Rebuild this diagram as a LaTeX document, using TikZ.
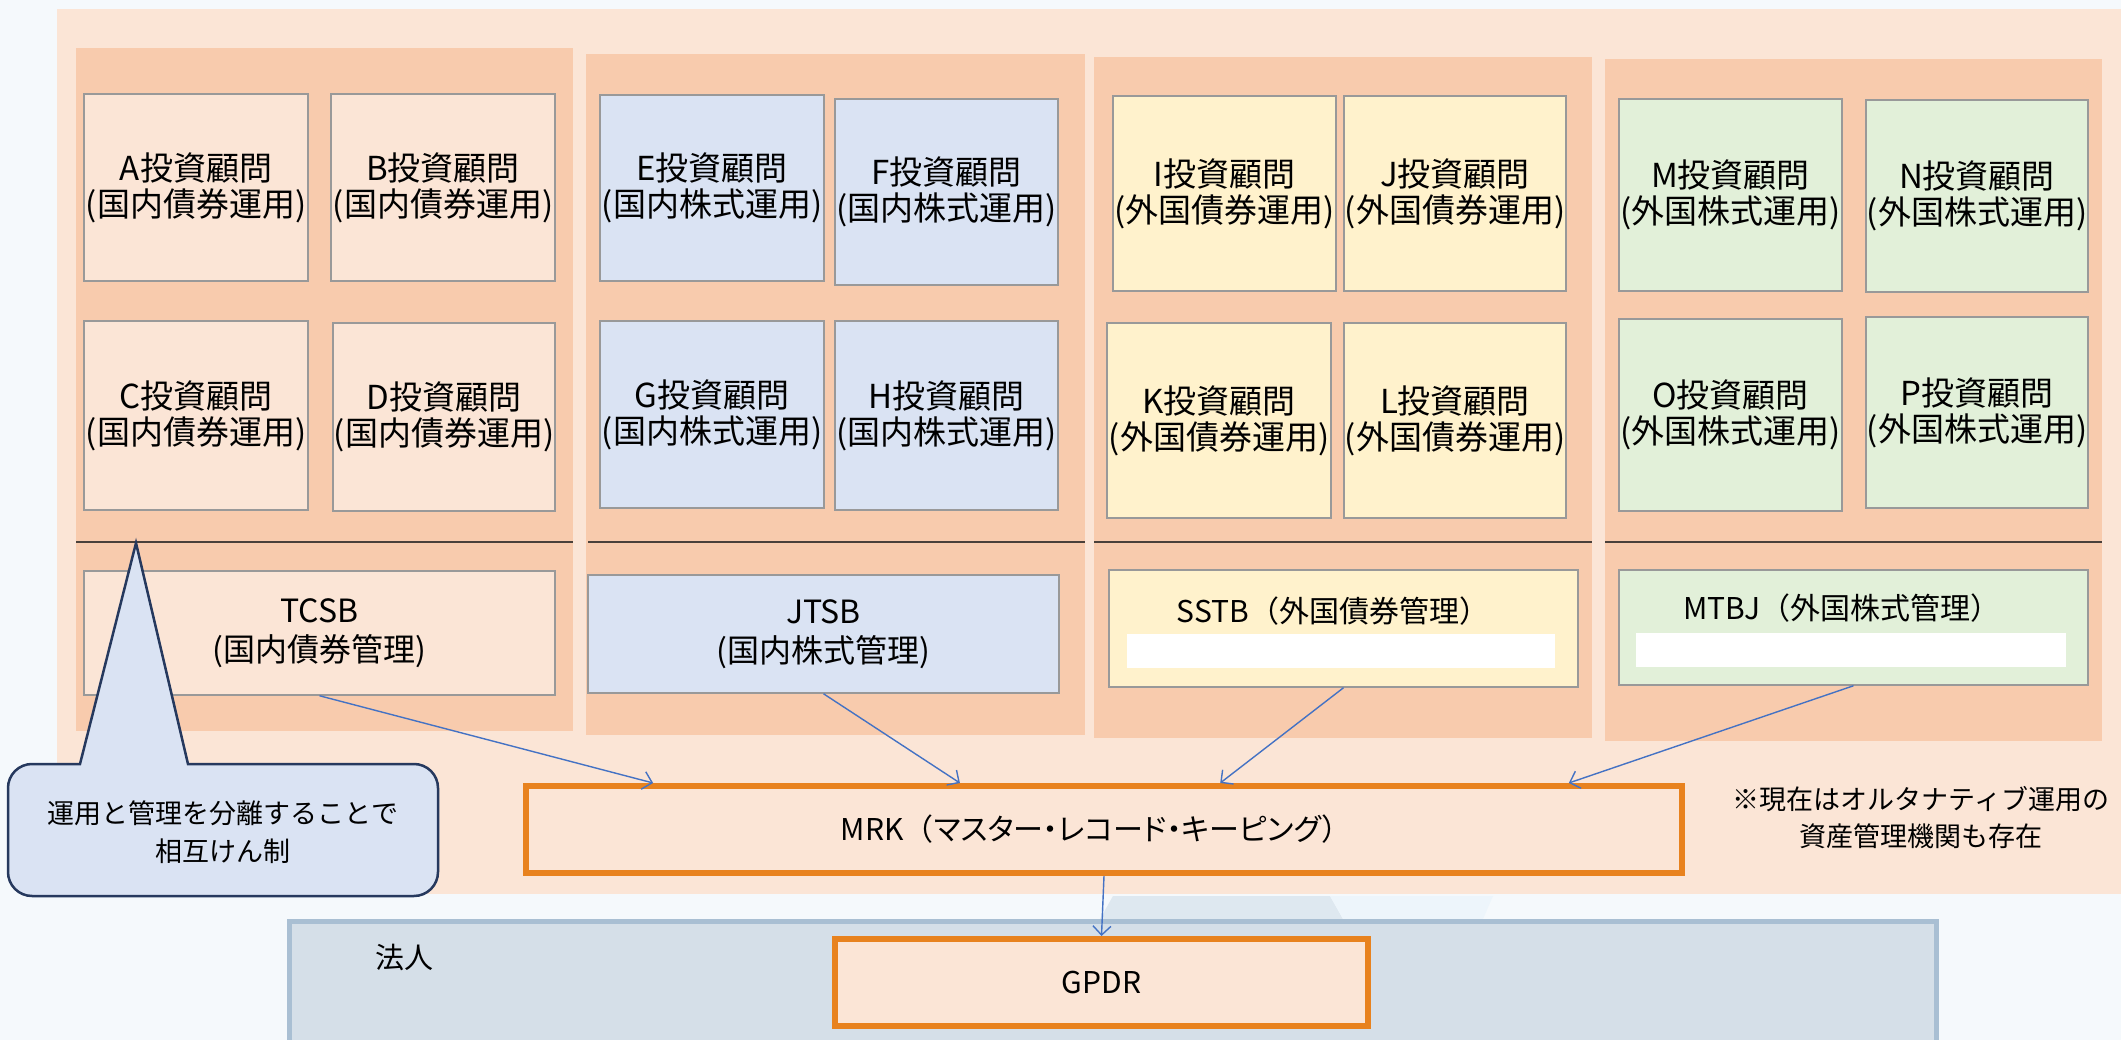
\documentclass[tikz,border=0pt]{standalone}
\usepackage{fontspec}
\setmainfont{Noto Sans CJK JP}
\newfontfamily\jpprop{Noto Sans CJK JP}[RawFeature=+palt]
\usetikzlibrary{arrows.meta,calc}

\definecolor{pagebg}{HTML}{F5F9FC}
\definecolor{outerbg}{HTML}{FBE5D6}
\definecolor{colbg}{HTML}{F8CBAD}
\definecolor{peachbox}{HTML}{FBE5D6}
\definecolor{bluebox}{HTML}{DAE3F3}
\definecolor{yellowbox}{HTML}{FFF2CC}
\definecolor{greenbox}{HTML}{E2F0D9}
\definecolor{boxline}{HTML}{999999}
\definecolor{sepcol}{HTML}{4A403A}
\definecolor{mrkline}{HTML}{E8821E}
\definecolor{arrowcol}{HTML}{4472C4}
\definecolor{calloutline}{HTML}{26395E}
\definecolor{legalfill}{HTML}{D5DFE8}
\definecolor{legalline}{HTML}{A9BFD3}
\definecolor{shadeA}{HTML}{DEE8F0}
\definecolor{shadeB}{HTML}{EDF5FB}

% a rectangular node given by its corners: name, style, x1, y1, x2, y2, text
\newcommand\cornerbox[7]{%
  \node[#2, minimum width={(#5-#3)*1pt}, minimum height={(#6-#4)*1pt}]
    (#1) at ({(#3+#5)/2},{(#4+#6)/2}) {#7};}

\begin{document}
\begin{tikzpicture}[x=1pt,y=-1pt,
  advbox/.style={draw=boxline, line width=1.5pt, inner sep=0pt, align=center,
    font=\fontsize{33}{36}\selectfont},
  custbox/.style={draw=boxline, line width=1.5pt, inner sep=0pt, align=center,
    font=\fontsize{32}{39}\selectfont},
  bar/.style={fill=white, draw=none},
  sepline/.style={draw=sepcol, line width=1.8pt},
  flow/.style={draw=arrowcol, line width=1.4pt,
    -{Straight Barb[length=9pt,width=18pt,line width=1.4pt]}},
  hub/.style={draw=mrkline, line width=6pt, fill=peachbox, inner sep=0pt,
    align=center, font=\fontsize{30}{36}\selectfont},
  plain/.style={inner sep=0pt, align=center, text=black}
]
\clip (0,0) rectangle (2121,1040);
\fill[pagebg] (0,0) rectangle (2121,1040);

% faint shape peeking between the two panels
\fill[shadeA] (1113,896) -- (1330,896) -- (1343,919) -- (1100,919) -- cycle;
\fill[shadeB] (1330,896) -- (1493,896) -- (1483,919) -- (1343,919) -- cycle;

% outer panel and the four columns
\fill[outerbg] (57,9) rectangle (2121,894);
\fill[colbg] (76,48) rectangle (573,731);
\fill[colbg] (586,54) rectangle (1085,735);
\fill[colbg] (1094,57) rectangle (1592,738);
\fill[colbg] (1605,59) rectangle (2102,741);

% separators between advisers and custodians
\draw[sepline] (76,542) -- (573,542);
\draw[sepline] (588,542) -- (1085,542);
\draw[sepline] (1094,542) -- (1592,542);
\draw[sepline] (1605,542) -- (2102,542);

% investment advisers
\cornerbox{A}{advbox, fill=peachbox}{84}{94}{308}{281}{A投資顧問\\(国内債券運用)}
\cornerbox{B}{advbox, fill=peachbox}{331}{94}{555}{281}{B投資顧問\\(国内債券運用)}
\cornerbox{C}{advbox, fill=peachbox}{84}{321}{308}{510}{C投資顧問\\(国内債券運用)}
\cornerbox{D}{advbox, fill=peachbox}{333}{323}{555}{511}{D投資顧問\\(国内債券運用)}

\cornerbox{E}{advbox, fill=bluebox}{600}{95}{824}{281}{E投資顧問\\(国内株式運用)}
\cornerbox{F}{advbox, fill=bluebox}{835}{99}{1058}{285}{F投資顧問\\(国内株式運用)}
\cornerbox{G}{advbox, fill=bluebox}{600}{321}{824}{508}{G投資顧問\\(国内株式運用)}
\cornerbox{H}{advbox, fill=bluebox}{835}{321}{1058}{510}{H投資顧問\\(国内株式運用)}

\cornerbox{I}{advbox, fill=yellowbox}{1113}{96}{1336}{291}{I投資顧問\\(外国債券運用)}
\cornerbox{J}{advbox, fill=yellowbox}{1344}{96}{1566}{291}{J投資顧問\\(外国債券運用)}
\cornerbox{K}{advbox, fill=yellowbox}{1107}{323}{1331}{518}{K投資顧問\\(外国債券運用)}
\cornerbox{L}{advbox, fill=yellowbox}{1344}{323}{1566}{518}{L投資顧問\\(外国債券運用)}

\cornerbox{M}{advbox, fill=greenbox}{1619}{99}{1842}{291}{M投資顧問\\(外国株式運用)}
\cornerbox{N}{advbox, fill=greenbox}{1866}{100}{2088}{292}{N投資顧問\\(外国株式運用)}
\cornerbox{O}{advbox, fill=greenbox}{1619}{319}{1842}{511}{O投資顧問\\(外国株式運用)}
\cornerbox{P}{advbox, fill=greenbox}{1866}{317}{2088}{508}{P投資顧問\\(外国株式運用)}

% custodian banks
\cornerbox{TCSB}{custbox, fill=peachbox}{84}{571}{555}{695}{TCSB\\(国内債券管理)}
\cornerbox{JTSB}{custbox, fill=bluebox}{588}{575}{1059}{693}{JTSB\\(国内株式管理)}
\cornerbox{SSTB}{custbox, fill=yellowbox}{1109}{570}{1578}{687}{}
\cornerbox{MTBJ}{custbox, fill=greenbox}{1619}{570}{2088}{685}{}
\node[plain, font=\fontsize{30}{36}\selectfont] (SSTBlabel) at (1333,611) {SSTB（外国債券管理）};
\node[plain, font=\fontsize{30}{36}\selectfont] (MTBJlabel) at (1842,608) {MTBJ（外国株式管理）};
\fill[bar] (1127,634) rectangle (1555,668);
\fill[bar] (1636,633) rectangle (2066,667);

% master record keeping
\cornerbox{MRK}{hub}{526}{786}{1682}{873}{}
\node[plain, font=\fontsize{30}{36}\selectfont] (MRKlabel) at (1096,829)
  {MRK（{\jpprop マスター・レコード・キーピング}）};

\node[plain, font=\fontsize{27}{37}\selectfont] (note) at (1921,818)
  {※現在はオルタナティブ運用の\\資産管理機関も存在};

% legal-entity panel
\draw[draw=legalline, fill=legalfill, line width=5pt] (289,921) rectangle (1936,1070);
\node[plain, font=\fontsize{29}{36}\selectfont] (legal) at (404,958) {法人};
\cornerbox{GPDR}{hub}{835}{939}{1368}{1026}{GPDR}

% data flows
\draw[flow] (TCSB.south) -- ($(MRK.north west)!0.112!(MRK.north east)$);
\draw[flow] (JTSB.south) -- ($(MRK.north west)!0.376!(MRK.north east)$);
\draw[flow] (SSTB.south) -- ($(MRK.north west)!0.600!(MRK.north east)$);
\draw[flow] (MTBJ.south) -- ($(MRK.north west)!0.900!(MRK.north east)$);
\draw[flow] (MRK.south) -- (GPDR.north);

% callout
\draw[draw=calloutline, fill=bluebox, line width=2.5pt, line join=miter]
  (136,543) -- (188,764) [rounded corners=24pt] -- (438,764) -- (438,896)
  -- (8,896) -- (8,764) [sharp corners] -- (80,764) -- cycle;
\node[plain, font=\fontsize{27}{38}\selectfont] (calloutText) at (223,832)
  {運用と管理を分離することで\\相互けん制};
\end{tikzpicture}
\end{document}
